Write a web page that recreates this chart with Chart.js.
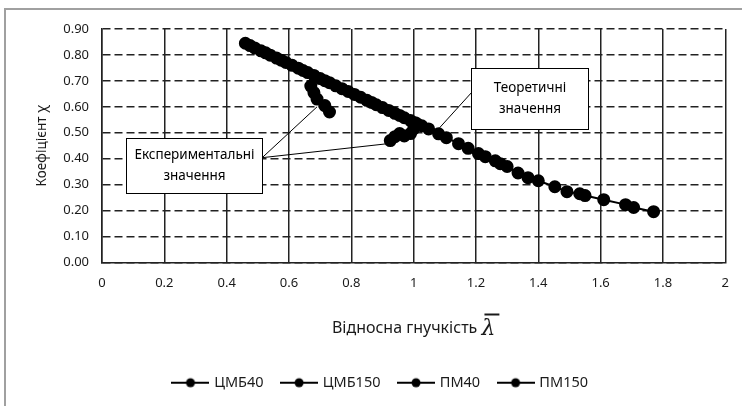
<!DOCTYPE html>
<html>
<head>
<meta charset="utf-8">
<script src="https://cdn.jsdelivr.net/npm/chart.js@4.4.1/dist/chart.umd.min.js"></script>
<style>
  html, body { margin: 0; padding: 0; background: #fff; }
  #wrap { width: 742px; height: 406px; }
</style>
</head>
<body>
<div id="wrap"><canvas id="grafico" width="742" height="406"></canvas></div>
<script>
// Серії: експериментальні та теоретичні значення коефіцієнта χ
const seriesNames = ['ЦМБ40', 'ЦМБ150', 'ПМ40', 'ПМ150'];

const cmb40X = [0.67, 0.68, 0.69, 0.715, 0.73];
const cmb40Y = [0.68, 0.655, 0.63, 0.605, 0.58];

const cmb150X = [0.925, 0.94, 0.955, 0.97, 0.99, 1.0, 1.01];
const cmb150Y = [0.47, 0.485, 0.497, 0.488, 0.497, 0.515, 0.535];

const pm40X = [0.46, 0.475, 0.49, 0.51, 0.525, 0.54, 0.56, 0.575, 0.59, 0.61, 0.63, 0.645, 0.66,
    0.68, 0.70, 0.715, 0.73, 0.75, 0.77, 0.79, 0.81, 0.83, 0.85, 0.865, 0.88, 0.90, 0.92, 0.94,
    0.955, 0.97, 0.99, 1.005, 1.026];
const pm40Y = [0.845, 0.836, 0.827, 0.816, 0.808, 0.799, 0.788, 0.780, 0.771, 0.760, 0.749, 0.740, 0.732,
    0.721, 0.709, 0.701, 0.693, 0.681, 0.670, 0.659, 0.648, 0.637, 0.625, 0.617, 0.608, 0.597, 0.586, 0.575,
    0.567, 0.558, 0.547, 0.539, 0.527];

const pm150X = [1.048, 1.08, 1.105, 1.144, 1.175, 1.208, 1.23, 1.262, 1.278, 1.30, 1.335, 1.367, 1.40,
    1.453, 1.492, 1.533, 1.55, 1.61, 1.68, 1.706, 1.77];
const pm150Y = [0.515, 0.496, 0.481, 0.458, 0.44, 0.42, 0.408, 0.392, 0.381, 0.37, 0.345, 0.327, 0.315,
    0.292, 0.273, 0.265, 0.258, 0.242, 0.223, 0.212, 0.196];

const xTicks = [0, 0.2, 0.4, 0.6, 0.8, 1, 1.2, 1.4, 1.6, 1.8, 2];
const yTicks = [0, 0.1, 0.2, 0.3, 0.4, 0.5, 0.6, 0.7, 0.8, 0.9];

// Виноски: прямокутник і точки, куди ведуть лінії (в одиницях осей)
const calloutTheory = { text: ['Теоретичні', 'значення'], box: [1.185, 0.75, 1.559, 0.515], from: [1.185, 0.654], to: [[1.083, 0.519]] };
const calloutExp = { text: ['Експериментальні', 'значення'], box: [0.077, 0.481, 0.514, 0.269], from: [0.514, 0.404], to: [[0.69, 0.60], [0.917, 0.458]] };

const FONT = "'Noto Sans', sans-serif";

function zipXY(xs, ys) {
    return xs.map((x, i) => ({ x: x, y: ys[i] }));
}

// значок легенди: лінія з кружком
function legendIcon() {
    const c = document.createElement('canvas');
    c.width = 38; c.height = 12;
    const g = c.getContext('2d');
    g.strokeStyle = '#000'; g.lineWidth = 2;
    g.beginPath(); g.moveTo(0, 6); g.lineTo(38, 6); g.stroke();
    g.fillStyle = '#000';
    g.beginPath(); g.arc(19, 6, 4.5, 0, Math.PI * 2); g.fill();
    return c;
}
const icon = legendIcon();

function makeSet(label, xs, ys) {
    return {
        label: label,
        data: zipXY(xs, ys),
        borderColor: '#000',
        backgroundColor: '#000',
        borderWidth: 2,
        pointStyle: 'circle',
        pointRadius: 5.5,
        pointHoverRadius: 5.5,
        pointBackgroundColor: '#000',
        pointBorderColor: '#000',
        showLine: true,
        tension: 0
    };
}

// рамка, підпис осі X з λ̄ та виноски
const extras = {
    id: 'extras',
    beforeDraw(chart) {
        const c = chart.ctx;
        c.save();
        c.fillStyle = '#fff';
        c.fillRect(0, 0, chart.width, chart.height);
        c.strokeStyle = '#a0a0a0';
        c.lineWidth = 2;
        c.beginPath();
        c.moveTo(5, chart.height); c.lineTo(5, 9); c.lineTo(chart.width, 9);
        c.stroke();
        c.restore();
    },
    afterDatasetsDraw(chart) {
        const c = chart.ctx;
        const xs = chart.scales.x, ys = chart.scales.y;
        const px = v => xs.getPixelForValue(v);
        const py = v => ys.getPixelForValue(v);

        c.save();
        [calloutTheory, calloutExp].forEach(co => {
            c.strokeStyle = '#000';
            c.lineWidth = 1;
            co.to.forEach(t => {
                c.beginPath();
                c.moveTo(px(co.from[0]), py(co.from[1]));
                c.lineTo(px(t[0]), py(t[1]));
                c.stroke();
            });
            const l = Math.round(px(co.box[0])) + 0.5, tp = Math.round(py(co.box[1])) + 0.5;
            const r = Math.round(px(co.box[2])) + 0.5, b = Math.round(py(co.box[3])) + 0.5;
            c.fillStyle = '#fff';
            c.fillRect(l, tp, r - l, b - tp);
            c.strokeRect(l, tp, r - l, b - tp);
            c.fillStyle = '#000';
            c.font = '13.5px ' + FONT;
            c.textAlign = 'center';
            c.textBaseline = 'middle';
            const cx = (l + r) / 2, cy = (tp + b) / 2;
            c.fillText(co.text[0], cx, cy - 10.5);
            c.fillText(co.text[1], cx, cy + 10.5);
        });

        // підпис осі X
        const a = chart.chartArea;
        const label = 'Відносна гнучкість ';
        c.font = '16px ' + FONT;
        const w1 = c.measureText(label).width;
        c.font = 'italic 22px "DejaVu Serif", serif';
        const w2 = c.measureText('λ').width;
        const start = (a.left + a.right) / 2 - (w1 + w2) / 2;
        const midY = a.bottom + 66;
        c.textAlign = 'left';
        c.textBaseline = 'middle';
        c.fillStyle = '#1a1a1a';
        c.font = '16px ' + FONT;
        c.fillText(label, start, midY);
        c.font = 'italic 22px "DejaVu Serif", serif';
        c.fillText('λ', start + w1, midY + 1);
        c.lineWidth = 2;
        c.strokeStyle = '#1a1a1a';
        c.beginPath();
        c.moveTo(start + w1 + 3, midY - 14);
        c.lineTo(start + w1 + w2 + 4, midY - 14);
        c.stroke();
        c.restore();
    }
};

new Chart(document.getElementById('grafico').getContext('2d'), {
    type: 'scatter',
    data: {
        datasets: [
            makeSet(seriesNames[0], cmb40X, cmb40Y),
            makeSet(seriesNames[1], cmb150X, cmb150Y),
            makeSet(seriesNames[2], pm40X, pm40Y),
            makeSet(seriesNames[3], pm150X, pm150Y)
        ]
    },
    options: {
        responsive: false,
        animation: false,
        devicePixelRatio: 1,
        layout: { padding: { left: 34, right: 14, top: 29, bottom: 6 } },
        plugins: {
            tooltip: { enabled: false },
            legend: {
                position: 'bottom',
                labels: {
                    usePointStyle: true,
                    pointStyleWidth: 33,
                    padding: 19,
                    color: '#1a1a1a',
                    font: { family: FONT, size: 14.5 },
                    generateLabels(chart) {
                        return chart.data.datasets.map((d, i) => ({
                            text: d.label,
                            pointStyle: icon,
                            fillStyle: '#000',
                            strokeStyle: '#000',
                            lineWidth: 0,
                            hidden: false,
                            datasetIndex: i,
                            fontColor: '#1a1a1a'
                        }));
                    }
                }
            }
        },
        scales: {
            x: {
                type: 'linear',
                min: 0, max: 2,
                afterBuildTicks(s) { s.ticks = xTicks.map(v => ({ value: v })); },
                afterFit(s) { s.height = 94; },
                border: { display: true, color: '#222', width: 1.5 },
                grid: { color: '#222', lineWidth: 1.5, drawTicks: false },
                ticks: {
                    padding: 13,
                    color: '#1a1a1a',
                    font: { family: FONT, size: 13 },
                    callback: v => String(+v.toFixed(1))
                }
            },
            y: {
                min: 0, max: 0.9,
                afterBuildTicks(s) { s.ticks = yTicks.map(v => ({ value: v })); },
                afterFit(s) { s.width = 102 - 34; },
                // пунктир для горизонтальних ліній сітки
                border: { display: true, color: '#222', width: 1.5, dash: [8, 4] },
                grid: { color: '#222', lineWidth: 1.5, drawTicks: false },
                ticks: {
                    padding: 13,
                    color: '#1a1a1a',
                    font: { family: FONT, size: 13 },
                    callback: v => v.toFixed(2)
                },
                title: {
                    display: true,
                    text: 'Коефіцієнт χ',
                    color: '#1a1a1a',
                    padding: 0,
                    font: { family: FONT, size: 13.5 }
                }
            }
        }
    },
    plugins: [extras]
});
</script>
</body>
</html>
